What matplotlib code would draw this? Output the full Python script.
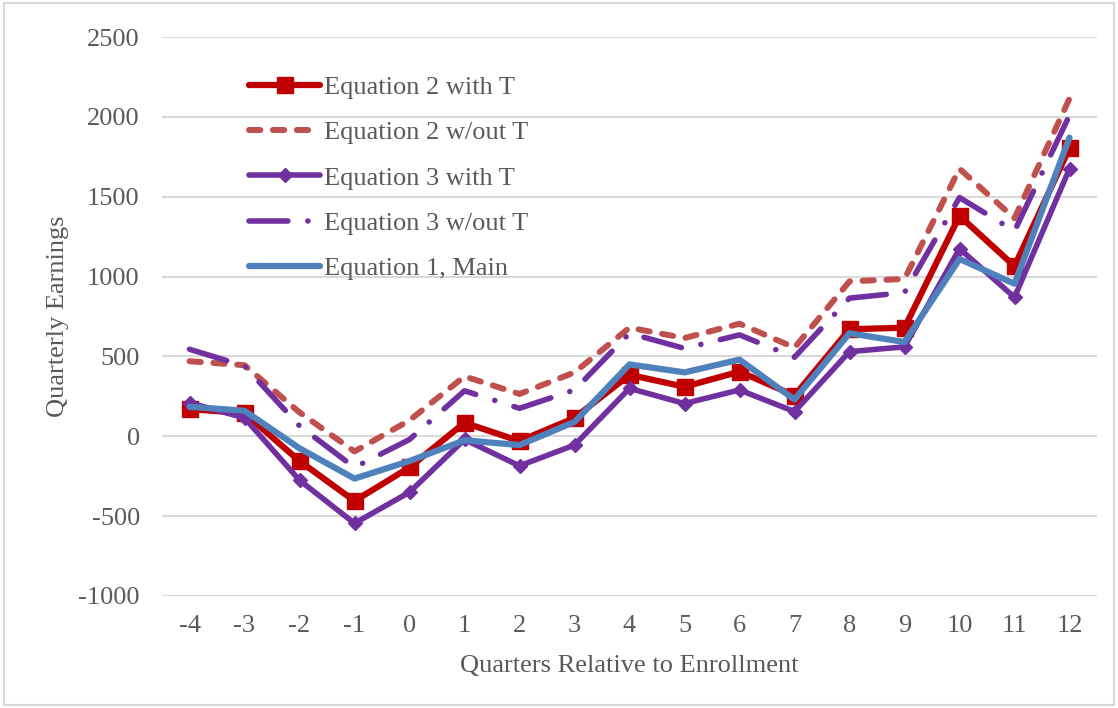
import matplotlib
matplotlib.use("Agg")
import matplotlib.pyplot as plt
from matplotlib.patches import Rectangle

quarters = [-4, -3, -2, -1, 0, 1, 2, 3, 4, 5, 6, 7, 8, 9, 10, 11, 12]
eq2_with_t = [170, 145, -155, -405, -195, 85, -30, 115, 385, 310, 405, 255, 670, 680, 1380, 1065, 1805]
eq2_without_t = [470, 445, 150, -95, 100, 375, 265, 400, 680, 615, 705, 555, 970, 985, 1675, 1365, 2115]
eq3_with_t = [210, 115, -275, -545, -350, -20, -185, -55, 300, 205, 290, 155, 530, 560, 1175, 870, 1675]
eq3_without_t = [545, 440, 65, -195, -20, 285, 175, 290, 645, 550, 635, 495, 865, 900, 1495, 1285, 2010]
eq1_main = [185, 160, -75, -265, -155, -25, -55, 90, 450, 400, 480, 230, 645, 590, 1110, 955, 1870]
y_ticks = [-1000, -500, 0, 500, 1000, 1500, 2000, 2500]

plt.rcParams['font.family'] = ['Liberation Serif', 'DejaVu Serif']
text_color = '#595959'
grid_color = '#D9D9D9'
fs = 19

fig = plt.figure(figsize=(11.18, 7.08), dpi=100)
fig.patches.append(Rectangle((0.004, 0.004), 0.992, 0.992, transform=fig.transFigure,
                             fill=False, edgecolor=grid_color, linewidth=1.5))
ax = fig.add_axes([162/1118, 1 - 596/708, (1097-162)/1118, (596-37)/708])

xs = list(range(len(quarters)))

ax.plot(xs, eq2_with_t, color='#C00000', lw=4.5, marker='s', markersize=11,
        solid_capstyle='round', solid_joinstyle='round', label='Equation 2 with T', zorder=3)
ax.plot(xs, eq2_without_t, color='#C0504D', lw=4.3, linestyle=(0, (1.9, 2.1)),
        dash_capstyle='round', dash_joinstyle='round', label='Equation 2 w/out T', zorder=3)
ax.plot(xs, eq3_with_t, color='#7030A0', lw=4.0, marker='D', markersize=7.5,
        solid_capstyle='round', solid_joinstyle='round', label='Equation 3 with T', zorder=3)
ax.plot(xs, eq3_without_t, color='#7030A0', lw=4.0, linestyle=(0, (7.0, 3.6, 0.01, 3.6)),
        dash_capstyle='round', dash_joinstyle='round', label='Equation 3 w/out T', zorder=3)
ax.plot(xs, eq1_main, color='#4F81BD', lw=4.5,
        solid_capstyle='round', solid_joinstyle='round', label='Equation 1, Main', zorder=3)

ax.set_xlim(-0.5, len(quarters) - 0.5)
ax.set_ylim(-1000, 2500)
ax.set_xticks(xs)
ax.set_xticklabels([str(q) for q in quarters])
ax.set_yticks(y_ticks)
ax.set_yticklabels([str(v) for v in y_ticks])
ax.tick_params(axis='both', length=0, labelsize=fs, colors=text_color)
ax.tick_params(axis='y', pad=16)
ax.tick_params(axis='x', pad=14)
ax.grid(axis='y', color=grid_color, linewidth=1.5, zorder=0)
ax.set_axisbelow(True)
for s in ax.spines.values():
    s.set_visible(False)

ax.set_xlabel('Quarters Relative to Enrollment', fontsize=fs, color=text_color, labelpad=13)
ax.set_ylabel('Quarterly Earnings', fontsize=fs, color=text_color, labelpad=7)

leg = ax.legend(loc='upper left', bbox_to_anchor=(0.082, 0.950), frameon=False,
                fontsize=fs, handlelength=2.7, handletextpad=0.15, labelspacing=0.83,
                borderaxespad=0, numpoints=1)
for t in leg.get_texts():
    t.set_color(text_color)

fig.savefig('out.png', dpi=100)
